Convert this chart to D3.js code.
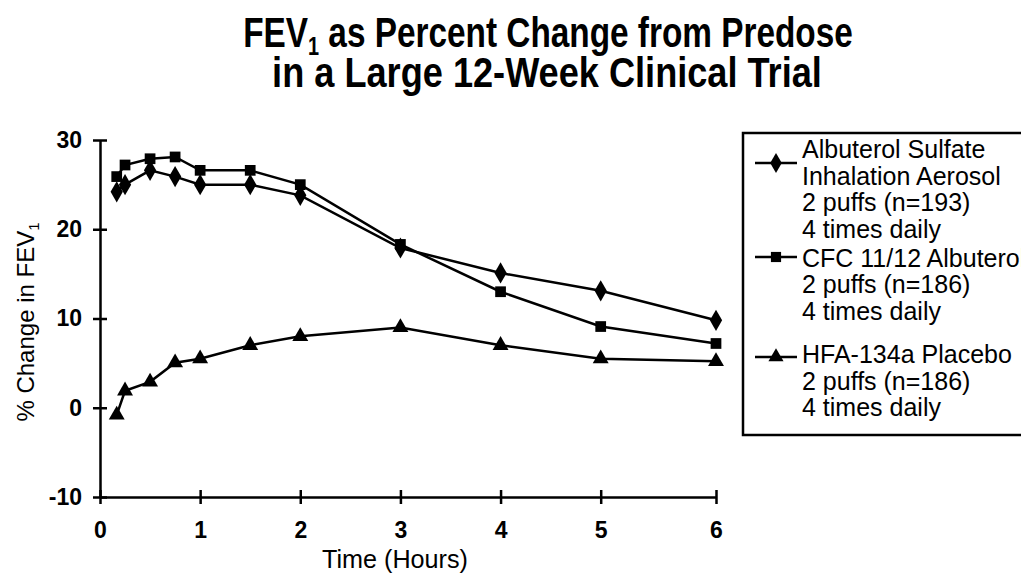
<!DOCTYPE html>
<html lang="en">
<head>
<meta charset="utf-8">
<title>FEV1 percent change</title>
<script src="https://d3js.org/d3.v7.min.js"></script>
<style>
  body { margin: 0; background: #fff; }
  text { fill: #000; font-family: "Liberation Sans", Arial, Helvetica, sans-serif; }
  .tick text { font-weight: bold; font-size: 23px; }
</style>
</head>
<body>
<svg width="1021" height="575"></svg>
<script>
// data
var hours = [0.167, 0.25, 0.5, 0.75, 1, 1.5, 2, 3, 4, 5, 6];
var albuterolHFA = [24.2, 25, 26.6, 25.9, 25, 25, 23.8, 17.9, 15.1, 13.1, 9.8];
var albuterolCFC = [25.9, 27.2, 27.9, 28.1, 26.6, 26.6, 25, 18.3, 13, 9.1, 7.2];
var placebo = [-0.8, 1.9, 2.9, 5.05, 5.5, 7, 8, 9, 7, 5.5, 5.2];

var xTicks = [0, 1, 2, 3, 4, 5, 6];
var yTicks = [-10, 0, 10, 20, 30];

var legendLines = [
  ["Albuterol Sulfate", "Inhalation Aerosol", "2 puffs (n=193)", "4 times daily"],
  ["CFC 11/12 Albuterol", "2 puffs (n=186)", "4 times daily"],
  ["HFA-134a Placebo", "2 puffs (n=186)", "4 times daily"]
];

var svg = d3.select("svg");

// scales (the last hour is drawn a bit wider in the original)
var x = d3.scaleLinear().domain([0, 5, 6]).range([100, 600.7, 716]);
var y = d3.scaleLinear().domain([-10, 30]).range([497, 140]);

// squeeze a text horizontally to a given width (condensed look)
function fitWidth(sel, cx, cy, w) {
  var len = sel.node().getComputedTextLength();
  sel.attr("transform", "translate(" + cx + "," + cy + ") scale(" + (w / len) + ",1)");
}

// title
var t1 = svg.append("text").attr("text-anchor", "middle")
  .style("font-size", "42px").style("font-weight", "bold");
t1.append("tspan").text("FEV");
t1.append("tspan").text("1").style("font-size", "25px").attr("dy", 8);
t1.append("tspan").text(" as Percent Change from Predose").attr("dy", -8);
fitWidth(t1, 548, 47, 610);

var t2 = svg.append("text").attr("text-anchor", "middle")
  .style("font-size", "42px").style("font-weight", "bold")
  .text("in a Large 12-Week Clinical Trial");
fitWidth(t2, 547, 87, 550);

// y axis
var gy = svg.append("g").attr("transform", "translate(100,0)");
gy.call(d3.axisLeft(y).tickValues(d3.range(-10, 31, 1)).tickSize(3).tickSizeOuter(0).tickFormat(""));
gy.call(d3.axisLeft(y).tickValues(yTicks).tickSize(7).tickSizeOuter(0).tickPadding(11).tickFormat(function(d) { return String(d); }));
gy.selectAll(".tick line").attr("x1", function() { return -d3.select(this).attr("x2"); });
gy.selectAll("path, line").attr("stroke", "#000").attr("stroke-width", 2.5);

// x axis
var minorX = d3.range(0, 37).map(function(i) { return i / 6; });
var gx = svg.append("g").attr("transform", "translate(0," + y(-10) + ")");
gx.call(d3.axisBottom(x).tickValues(minorX).tickSize(3).tickSizeOuter(0).tickFormat(""));
gx.call(d3.axisBottom(x).tickValues(xTicks).tickSize(7).tickSizeOuter(0).tickPadding(18).tickFormat(function(d) { return String(d); }));
gx.selectAll(".tick line").attr("y1", function() { return -d3.select(this).attr("y2"); });
gx.selectAll("path, line").attr("stroke", "#000").attr("stroke-width", 2.5);

// axis titles
var xlab = svg.append("text").attr("text-anchor", "middle")
  .style("font-size", "25px").text("Time (Hours)");
fitWidth(xlab, 395, 568, 146);

var ylab = svg.append("text")
  .attr("transform", "translate(34,322) rotate(-90)")
  .attr("text-anchor", "middle").style("font-size", "24px");
ylab.append("tspan").text("% Change in FEV");
ylab.append("tspan").text("1").style("font-size", "15px").attr("dy", 5);

// series
var series = [
  { vals: albuterolHFA, sym: d3.symbolDiamond, size: 130 },
  { vals: albuterolCFC, sym: d3.symbolSquare, size: 115 },
  { vals: placebo, sym: d3.symbolTriangle, size: 110 }
];

var line = d3.line().x(function(d) { return x(d[0]); }).y(function(d) { return y(d[1]); });

series.forEach(function(s) {
  var pts = hours.map(function(h, i) { return [h, s.vals[i]]; });
  svg.append("path").datum(pts).attr("d", line)
    .attr("fill", "none").attr("stroke", "#000").attr("stroke-width", 2.5);
  svg.append("g").selectAll("path").data(pts).enter().append("path")
    .attr("transform", function(d) { return "translate(" + x(d[0]) + "," + y(d[1]) + ")"; })
    .attr("d", d3.symbol().type(s.sym).size(s.size))
    .attr("fill", "#000");
});

// legend
svg.append("rect").attr("x", 743).attr("y", 133).attr("width", 300).attr("height", 302)
  .attr("fill", "none").attr("stroke", "#000").attr("stroke-width", 2.5);

var lineY = [158, 266.5, 363];
var symY = [163, 257, 357];
legendLines.forEach(function(lines, k) {
  var g = svg.append("g");
  g.append("line").attr("x1", 755).attr("x2", 797).attr("y1", symY[k]).attr("y2", symY[k])
    .attr("stroke", "#000").attr("stroke-width", 2.5);
  g.append("path").attr("transform", "translate(776," + symY[k] + ")")
    .attr("d", d3.symbol().type(series[k].sym).size(series[k].size * 0.9)).attr("fill", "#000");
  g.selectAll("text").data(lines).enter().append("text")
    .attr("x", 802).attr("y", function(d, i) { return lineY[k] + i * 26.6; })
    .style("font-size", "25px").text(function(d) { return d; });
});
</script>
</body>
</html>
